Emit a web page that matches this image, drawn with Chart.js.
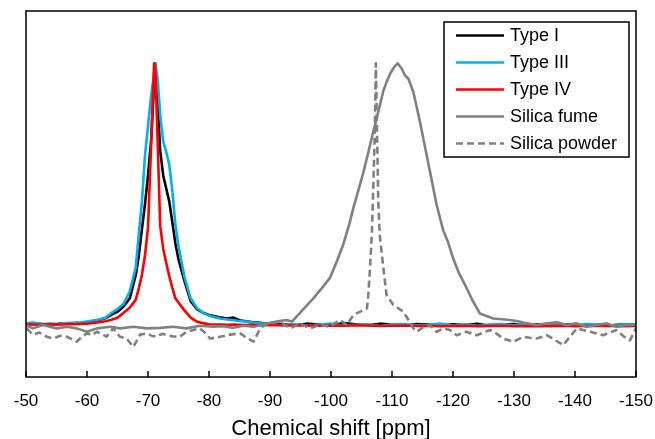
<!DOCTYPE html>
<html>
<head>
<meta charset="utf-8">
<script src="https://cdn.jsdelivr.net/npm/chart.js@4"></script>
<style>
  html, body { margin: 0; padding: 0; background: #fff; }
</style>
</head>
<body>
<canvas id="nmrChart" width="655" height="439"></canvas>
<script>
// 29Si NMR spectra, intensities normalised to the main peak
const cementShift = [
  -50, -51, -52, -53, -54, -55, -56, -57, -58, -59, -60, -61, -62, -63, -64, -65, -66, -67, -68,
  -68.5, -69, -69.5, -70, -70.5, -71, -71.2,
  -71.6, -72, -72.5, -73, -73.5, -74, -74.5, -75,
  -76, -77, -78, -79, -80, -81, -82, -83, -84, -85, -86, -87, -88, -89, -90,
  -92, -94, -96, -98, -100, -102, -104, -106, -108, -110, -112, -114, -116, -118, -120,
  -122, -124, -126, -128, -130, -132, -134, -136, -138, -140, -142, -144, -146, -148, -150
];
const typeI = [
  0.003, 0.002, 0.004, 0.001, 0.003, 0.002, 0.005, 0.004, 0.006, 0.007, 0.010, 0.014, 0.019, 0.025, 0.038, 0.050, 0.070, 0.100, 0.190,
  0.265, 0.365, 0.460, 0.570, 0.700, 0.920, 1.000,
  0.840, 0.665, 0.570, 0.520, 0.470, 0.390, 0.310, 0.250,
  0.165, 0.090, 0.060, 0.046, 0.037, 0.032, 0.027, 0.024, 0.027, 0.017, 0.013, 0.010, 0.008, 0.005, 0.004,
  0.003, -0.002, 0.004, 0.001, -0.003, 0.006, 0.002, -0.002, 0.004, 0.000, -0.004, 0.003, 0.001, -0.003, 0.002,
  -0.001, 0.004, -0.004, 0.001, 0.003, -0.003, 0.002, -0.005, 0.001, 0.003, -0.004, 0.000, -0.002, 0.002, 0.000
];
const typeIII = [
  0.004, 0.008, 0.005, 0.003, 0.004, 0.003, 0.005, 0.006, 0.007, 0.008, 0.012, 0.016, 0.020, 0.027, 0.045, 0.060, 0.080, 0.127, 0.220,
  0.350, 0.470, 0.646, 0.760, 0.873, 0.960, 1.000,
  0.935, 0.800, 0.700, 0.660, 0.610, 0.510, 0.380, 0.300,
  0.180, 0.100, 0.065, 0.046, 0.035, 0.028, 0.023, 0.020, 0.017, 0.014, 0.012, 0.009, 0.006, 0.004, 0.002,
  -0.002, 0.003, -0.004, 0.001, 0.004, -0.003, 0.000, 0.002, -0.005, 0.001, 0.003, -0.002, 0.000, 0.004, -0.003,
  0.002, -0.004, 0.001, 0.003, -0.002, 0.004, -0.003, 0.000, 0.002, -0.004, 0.003, 0.001, -0.003, 0.002, 0.001
];
const typeIV = [
  0.001, 0.002, 0.000, 0.002, 0.001, 0.002, 0.001, 0.003, 0.002, 0.003, 0.004, 0.007, 0.010, 0.013, 0.019, 0.027, 0.046, 0.065, 0.096,
  0.140, 0.190, 0.265, 0.370, 0.680, 1.000, 0.980,
  0.685, 0.377, 0.290, 0.235, 0.185, 0.140, 0.100, 0.085,
  0.054, 0.027, 0.012, 0.006, 0.002, 0.001, 0.001, 0.000, 0.001, 0.000, -0.001, 0.000, -0.002, -0.001, -0.002,
  -0.002, -0.003, -0.002, -0.004, -0.003, -0.004, -0.002, -0.003, -0.005, -0.004, -0.003, -0.005, -0.004, -0.006, -0.005,
  -0.004, -0.006, -0.005, -0.004, -0.006, -0.005, -0.006, -0.005, -0.004, -0.006, -0.005, -0.004, -0.005, -0.006, -0.005
];

const fumeShift = [
  -50, -51.1, -52.8, -55, -56.7, -58.3, -60, -61.6, -63.8, -65.4, -67.6, -69.8, -72, -74.1, -76.3, -78.5,
  -80.7, -82.4, -84, -85.6, -87.3, -89.5, -91.1, -92.7, -93.6, -95.4, -97.1, -98.5, -99.8, -101, -102, -103,
  -103.7, -104.5, -105.3, -106.1, -106.9, -107.5, -108, -108.6, -109.1, -109.7, -110.2, -110.9, -111.6, -112.1,
  -112.7, -113.5, -114, -114.6, -115.2, -115.7, -116.3, -116.8, -117.3, -118.4, -119.2, -120, -121, -121.7,
  -122.5, -123.3, -124.4, -125.5, -126.6, -128, -129.3, -130.7, -132.1, -133.7, -135.4, -137, -138.6, -140.3,
  -141.9, -143.6, -145.2, -146.8, -148.5, -150
];
const silicaFume = [
  -0.002, -0.014, -0.001, -0.014, -0.008, -0.014, -0.027, -0.014, -0.008, -0.014, -0.008, -0.014, -0.012, -0.008, -0.014, -0.004,
  -0.008, -0.006, -0.012, -0.004, -0.008, 0.005, 0.012, 0.018, 0.012, 0.058, 0.101, 0.140, 0.178, 0.245, 0.306, 0.385,
  0.450, 0.515, 0.582, 0.658, 0.736, 0.790, 0.838, 0.896, 0.928, 0.960, 0.980, 1.000, 0.980, 0.954,
  0.941, 0.890, 0.838, 0.774, 0.705, 0.646, 0.577, 0.518, 0.460, 0.360, 0.315, 0.255, 0.196, 0.165,
  0.127, 0.088, 0.043, 0.033, 0.024, 0.021, 0.018, 0.013, 0.005, -0.001, 0.005, 0.009, -0.001, 0.005,
  -0.008, -0.001, 0.005, -0.008, -0.001, -0.001
];

const powderShift = [
  -50.1, -51.1, -52.2, -53.4, -54.5, -55.6, -56.7, -57.5, -58.3, -59.2, -60, -60.8, -61.6, -62.4, -63.2, -64.3,
  -65.4, -66.5, -67.6, -68.7, -69.8, -70.6, -71.4, -72.3, -73.1, -74.1, -75.2, -76.3, -77.4, -78.5, -79.3, -80.2,
  -81.8, -83.4, -85.1, -86.2, -87.3, -88.4, -89.2, -90, -91.6, -93.3, -94.9, -96.5, -98.1, -99.8, -101.4, -102.6,
  -103.7, -104.8, -105.9, -106.1, -106.4, -106.7, -106.9, -107.2, -107.35, -107.5, -107.75, -108, -108.6, -109.1,
  -110.2, -111.85, -112.7, -113.5, -114.05, -115.2, -116.2, -117.3, -118.4, -119.5, -120.6, -122.2, -123.9, -125,
  -126.1, -127.2, -128.2, -129.9, -131.5, -132.6, -133.7, -135.4, -136.8, -138.1, -139.2, -140.3, -142.5, -144.6,
  -145.7, -146.8, -148, -149, -150
];
const silicaPowder = [
  -0.014, -0.038, -0.030, -0.046, -0.053, -0.042, -0.046, -0.055, -0.065, -0.045, -0.033, -0.040, -0.027, -0.035, -0.046, -0.014,
  -0.046, -0.053, -0.085, -0.038, -0.033, -0.042, -0.046, -0.035, -0.038, -0.045, -0.046, -0.027, -0.020, -0.014, -0.030, -0.053,
  -0.046, -0.038, -0.033, -0.050, -0.065, -0.014, 0.000, 0.005, 0.012, -0.014, 0.005, -0.014, -0.001, -0.008, 0.018, -0.001,
  0.038, 0.050, 0.063, 0.110, 0.217, 0.350, 0.500, 0.750, 1.000, 0.800, 0.470, 0.340, 0.215, 0.114,
  0.076, 0.050, 0.018, -0.014, -0.027, -0.008, -0.001, -0.027, -0.014, -0.020, -0.040, -0.027, -0.040, -0.030,
  -0.020, -0.035, -0.053, -0.065, -0.046, -0.050, -0.053, -0.040, -0.060, -0.078, -0.045, -0.014, -0.027, -0.040,
  -0.030, -0.020, -0.045, -0.060, -0.014
];

const xTicks = [-50, -60, -70, -80, -90, -100, -110, -120, -130, -140, -150];

const FONT = '"Liberation Sans", Arial, Helvetica, sans-serif';

function toPoints(xs, ys) {
  return xs.map((x, i) => ({ x: x, y: ys[i] }));
}

// plot frame plus inward tick marks on the bottom axis
const frameTicks = {
  id: 'frameTicks',
  afterDatasetsDraw(chart) {
    const { ctx, chartArea: a, scales } = chart;
    ctx.save();
    ctx.strokeStyle = '#000';
    ctx.lineWidth = 1.5;
    ctx.strokeRect(a.left, a.top, a.right - a.left, a.bottom - a.top);
    ctx.beginPath();
    xTicks.forEach(v => {
      const px = scales.x.getPixelForValue(v);
      ctx.moveTo(px, a.bottom);
      ctx.lineTo(px, a.bottom - 6);
    });
    ctx.stroke();
    ctx.restore();
  }
};

// boxed legend in the upper right corner
const boxLegend = {
  id: 'boxLegend',
  afterDraw(chart) {
    const { ctx, chartArea: a } = chart;
    const sets = chart.data.datasets;
    const w = 185, rowH = 27;
    const h = rowH * sets.length;
    const left = a.right - 7 - w;
    const top = a.top + 11;
    ctx.save();
    ctx.fillStyle = '#fff';
    ctx.fillRect(left, top, w, h);
    ctx.strokeStyle = '#000';
    ctx.lineWidth = 1.5;
    ctx.strokeRect(left, top, w, h);
    ctx.font = '18px ' + FONT;
    ctx.textBaseline = 'middle';
    sets.forEach((ds, i) => {
      const y = top + rowH / 2 + i * rowH;
      ctx.beginPath();
      ctx.strokeStyle = ds.borderColor;
      ctx.lineWidth = ds.borderWidth;
      ctx.setLineDash(ds.borderDash || []);
      ctx.moveTo(left + 12, y);
      ctx.lineTo(left + 60, y);
      ctx.stroke();
      ctx.setLineDash([]);
      ctx.fillStyle = '#000';
      ctx.fillText(ds.label, left + 66, y + 1);
    });
    ctx.restore();
  }
};

function series(label, xs, ys, color, order, dash) {
  return {
    label: label,
    data: toPoints(xs, ys),
    borderColor: color,
    borderWidth: 2.6,
    borderDash: dash || [],
    borderJoinStyle: 'round',
    borderCapStyle: 'butt',
    pointRadius: 0,
    tension: 0,
    fill: false,
    order: order
  };
}

new Chart(document.getElementById('nmrChart'), {
  type: 'line',
  data: {
    datasets: [
      series('Type I', cementShift, typeI, '#000000', 4),
      series('Type III', cementShift, typeIII, '#00b0f0', 3),
      series('Type IV', cementShift, typeIV, '#ff0000', 2),
      series('Silica fume', fumeShift, silicaFume, '#808080', 1),
      series('Silica powder', powderShift, silicaPowder, '#808080', 0, [7, 4])
    ]
  },
  options: {
    responsive: false,
    animation: false,
    layout: { padding: { left: 26, right: 19, top: 11, bottom: 0 } },
    plugins: { legend: { display: false }, tooltip: { enabled: false } },
    scales: {
      x: {
        type: 'linear',
        min: -150,
        max: -50,
        reverse: true,
        grid: { display: false, drawTicks: false },
        border: { display: false },
        afterBuildTicks: scale => { scale.ticks = xTicks.map(v => ({ value: v })); },
        afterFit: scale => {
          scale.height = 62;
          scale.paddingLeft = 0;
          scale.paddingRight = 0;
        },
        ticks: {
          color: '#000',
          font: { family: FONT, size: 17 },
          padding: 14,
          maxRotation: 0,
          autoSkip: false
        },
        title: {
          display: true,
          text: 'Chemical shift [ppm]',
          color: '#000',
          font: { family: FONT, size: 22, lineHeight: 0.9 },
          padding: { top: 0, bottom: 0 }
        }
      },
      y: { display: false, min: -0.2, max: 1.2 }
    }
  },
  plugins: [frameTicks, boxLegend]
});
</script>
</body>
</html>
